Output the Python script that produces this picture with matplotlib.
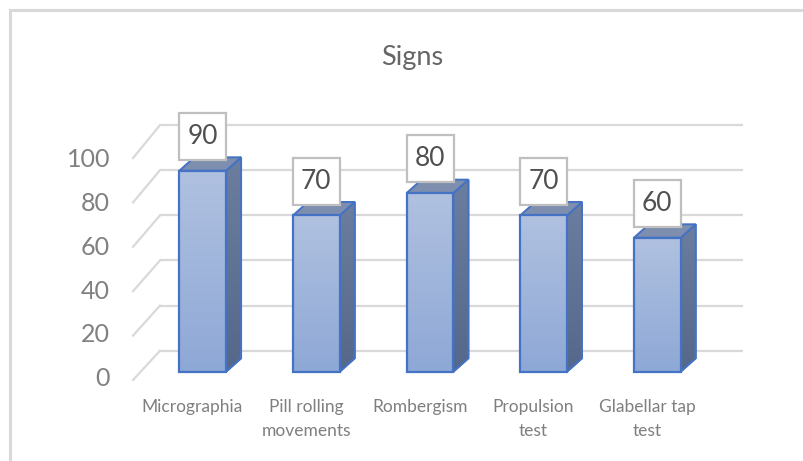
import matplotlib
matplotlib.use('Agg')
import matplotlib.pyplot as plt
import numpy as np
from matplotlib.patches import Rectangle, Polygon
from matplotlib.colors import LinearSegmentedColormap
from matplotlib.lines import Line2D

categories = ["Micrographia", "Pill rolling\nmovements", "Rombergism", "Propulsion\ntest", "Glabellar tap\ntest"]
values = [90, 70, 80, 70, 60]
yticks = [0, 20, 40, 60, 80, 100]
title = "Signs"

W, H, DPI = 804, 461, 100
plt.rcParams['font.family'] = ['Lato', 'DejaVu Sans']
fig = plt.figure(figsize=(W / DPI, H / DPI), dpi=DPI)
ax = fig.add_axes([0, 0, 1, 1])
ax.set_xlim(-1.7836, 5.2908)
ax.set_ylim(-40.0, 166.45)
ax.axis('off')

# geometry (data units)
bw = 0.411          # bar front width
ddx, ddy = 0.132, 6.0   # bar depth offset
grid_c = '#d9d9d9'
edge_c = '#4472c4'

# back wall gridlines and floor diagonals
for v in yticks:
    yb = 9.4 + 1.0103 * v
    yf = -3.72 + 0.994 * v
    ax.plot([-0.3757, 4.752], [yb, yb], color=grid_c, lw=1.6, zorder=1, solid_capstyle='butt')
    ax.plot([-0.613, -0.3757], [yf, yb], color=grid_c, lw=1.6, zorder=1)
    ax.text(-0.816, -3.2 + 0.983 * v, str(v), ha='right', va='center',
            fontsize=18, color='#808080')

front_cmap = LinearSegmentedColormap.from_list('f', ['#8ea8d6', '#b0c1e0'])
side_cmap = LinearSegmentedColormap.from_list('s', ['#56688a', '#6c7ea0'])

for i, v in enumerate(values):
    x0 = i - bw / 2
    x1 = i + bw / 2
    # side face
    side = Polygon([(x1, 0), (x1 + ddx, ddy), (x1 + ddx, v + ddy), (x1, v)],
                   closed=True, facecolor='#62749a', edgecolor=edge_c, lw=1.4, zorder=3)
    ax.add_patch(side)
    grad = np.linspace(0, 1, 100).reshape(-1, 1)
    im = ax.imshow(grad, cmap=side_cmap, extent=(x1, x1 + ddx, 0, v + ddy), origin='lower',
                   aspect='auto', zorder=3.1)
    im.set_clip_path(side)
    ax.add_patch(Polygon([(x1, 0), (x1 + ddx, ddy), (x1 + ddx, v + ddy), (x1, v)],
                         closed=True, facecolor='none', edgecolor=edge_c, lw=1.4, zorder=3.2))
    # top face
    ax.add_patch(Polygon([(x0, v), (x0 + ddx, v + ddy), (x1 + ddx, v + ddy), (x1, v)],
                         closed=True, facecolor='#7d8eae', edgecolor=edge_c, lw=1.4, zorder=3.3))
    # front face
    front = Rectangle((x0, 0), bw, v, facecolor='#9fb4dc', edgecolor='none', zorder=4)
    ax.add_patch(front)
    im2 = ax.imshow(grad, cmap=front_cmap, extent=(x0, x1, 0, v), origin='lower',
                    aspect='auto', zorder=4.1)
    im2.set_clip_path(front)
    ax.add_patch(Rectangle((x0, 0), bw, v, facecolor='none', edgecolor=edge_c, lw=1.6, zorder=4.2))
    # data label box
    bh = 21.05
    by = v + 4.8
    ax.add_patch(Rectangle((i - 0.2068, by), 0.4136, bh, facecolor='white',
                           edgecolor='#bfbfbf', lw=1.6, zorder=5))
    ax.text(i, by + bh / 2, str(v), ha='center', va='center', fontsize=19,
            color='#505050', zorder=6)
    # category label
    ax.text(i - 0.09, -12.4, categories[i], ha='center', va='top', fontsize=12.5,
            color='#7f7f7f', linespacing=1.6)

ax.text(1.842, 140.5, title, ha='center', va='center', fontsize=19.5, color='#666666')

# chart border (partially visible)
fig.add_artist(Line2D([10 / W, 10 / W], [0, 1 - 10 / H], color='#d9d9d9', lw=2.2))
fig.add_artist(Line2D([10 / W, 1], [1 - 10 / H, 1 - 10 / H], color='#d9d9d9', lw=2.2))

fig.savefig('out.png', dpi=DPI)
